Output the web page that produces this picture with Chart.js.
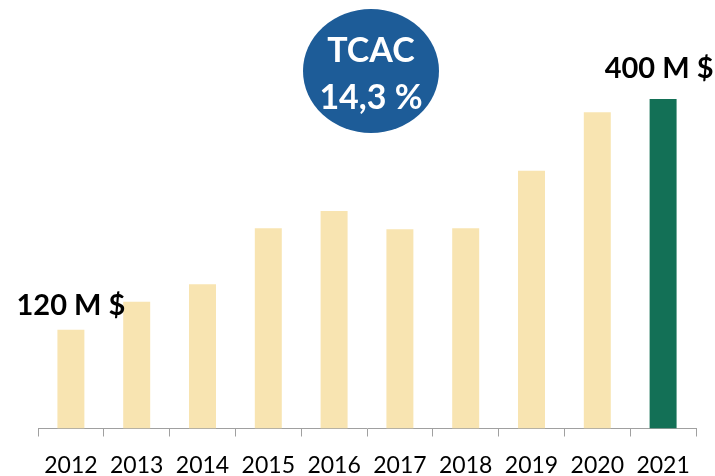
<!DOCTYPE html>
<html>
<head>
<meta charset="utf-8">
<script src="https://cdn.jsdelivr.net/npm/chart.js@4/dist/chart.umd.min.js"></script>
<style>
  html, body { margin: 0; padding: 0; background: #ffffff; }
  canvas { display: block; }
</style>
</head>
<body>
<canvas id="c" width="715" height="476"></canvas>
<script>
const years = ["2012","2013","2014","2015","2016","2017","2018","2019","2020","2021"];
const revenue = [120, 154, 175, 243, 264, 242, 243, 313, 384, 400];
const barLabels = ["120 M $", "", "", "", "", "", "", "", "", "400 M $"];
const badgeLines = ["TCAC", "14,3 %"];

const beige = "#F8E4B1";
const green = "#137056";
const blue = "#1D5C98";
const barColors = years.map((y, i) => i === years.length - 1 ? green : beige);

const overlay = {
  id: "overlay",
  afterDatasetsDraw(chart) {
    const ctx = chart.ctx;
    const meta = chart.getDatasetMeta(0);
    ctx.save();
    ctx.fillStyle = "#000000";
    ctx.font = "bold 29px Lato";
    ctx.textAlign = "center";
    ctx.textBaseline = "middle";
    barLabels.forEach((t, i) => {
      if (!t) return;
      const el = meta.data[i];
      const dx = i === years.length - 1 ? -4 : 0;
      const dy = i === 0 ? -24 : -30;
      ctx.fillText(t, el.x + dx, el.y + dy);
    });
    const cx = 371, cy = 71;
    ctx.fillStyle = blue;
    ctx.beginPath();
    ctx.ellipse(cx, cy, 68, 62, 0, 0, Math.PI * 2);
    ctx.fill();
    ctx.fillStyle = "#ffffff";
    ctx.font = "bold 34px Lato";
    ctx.fillText(badgeLines[0], cx, 51);
    ctx.fillText(badgeLines[1], cx, 98);
    ctx.restore();
  }
};

new Chart(document.getElementById("c"), {
  type: "bar",
  data: {
    labels: years,
    datasets: [{
      data: revenue,
      backgroundColor: barColors,
      borderWidth: 0,
      categoryPercentage: 1.0,
      barPercentage: 0.41
    }]
  },
  options: {
    responsive: false,
    animation: false,
    devicePixelRatio: 1,
    layout: { padding: { left: 38, right: 19, top: 16.6, bottom: 0 } },
    plugins: { legend: { display: false }, tooltip: { enabled: false } },
    scales: {
      y: { display: false, min: 0, max: 500 },
      x: {
        afterFit(scale) { scale.height = 47.5; },
        grid: {
          display: true,
          offset: true,
          drawOnChartArea: false,
          drawTicks: true,
          tickLength: 8,
          color: "#a0a0a0",
          lineWidth: 1
        },
        border: { display: true, color: "#a0a0a0", width: 1 },
        ticks: {
          color: "#000000",
          font: { family: "Lato", size: 23 },
          padding: 15,
          maxRotation: 0,
          autoSkip: false
        }
      }
    }
  },
  plugins: [overlay]
});
</script>
</body>
</html>
